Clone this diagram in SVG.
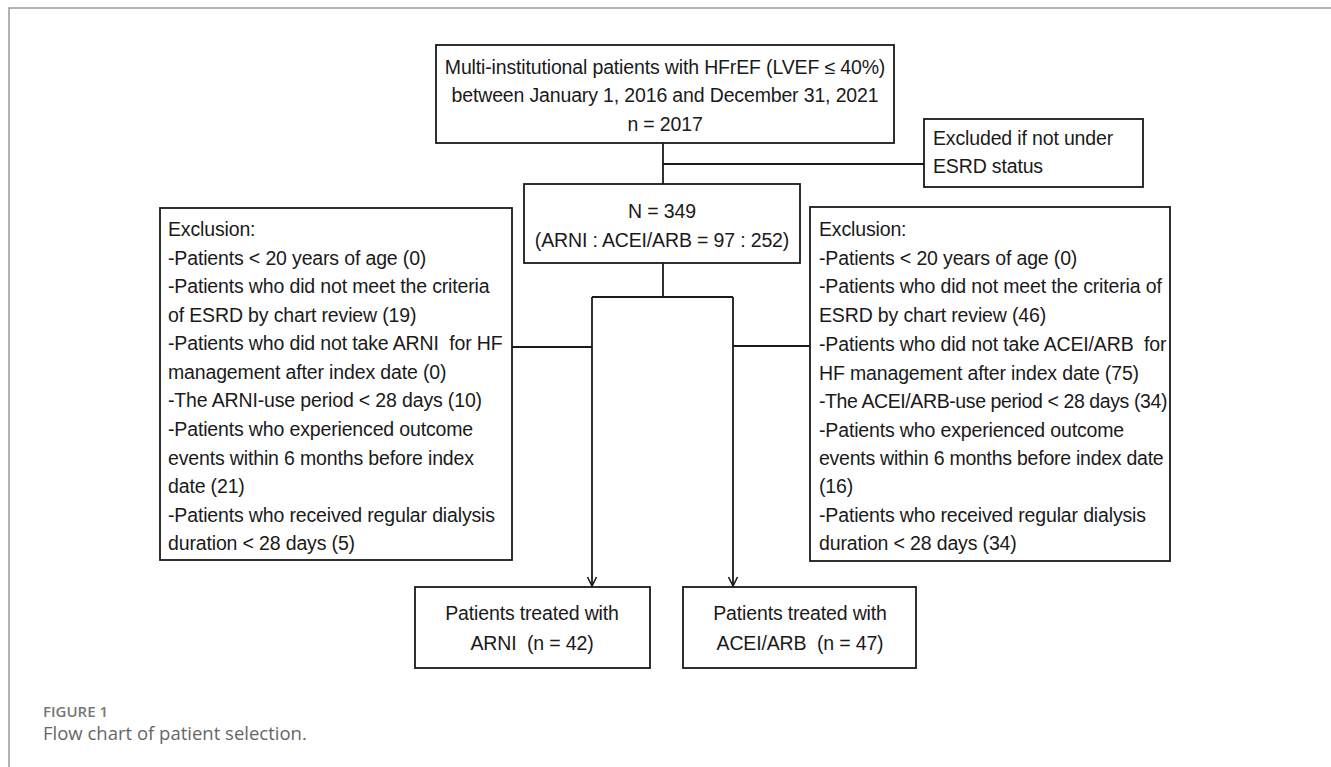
<svg xmlns="http://www.w3.org/2000/svg" width="1331" height="767" viewBox="0 0 1331 767">
<defs>
<style>
.box{fill:#fff;stroke:#1a1a1a;stroke-width:1.8}
.t{font-family:"Liberation Sans",Arial,sans-serif;font-size:19.5px;fill:#1a1a1a;letter-spacing:-0.15px}
.c{text-anchor:middle}
.ln{fill:none;stroke:#1a1a1a;stroke-width:1.8}
.frame{fill:none;stroke:#999;stroke-width:1.5}
</style>
<marker id="arr" markerUnits="userSpaceOnUse" markerWidth="12" markerHeight="12" refX="10" refY="5" orient="auto" viewBox="0 0 12 10">
<path d="M1,0.5 L10,5 L1,9.5" fill="none" stroke="#1a1a1a" stroke-width="1.6"/>
</marker>
</defs>
<rect width="1331" height="767" fill="#fff"/>
<path class="frame" d="M9,767 L9,8 L1331,8"/>
<g id="connectors">
<line class="ln" x1="663" y1="143" x2="663" y2="184"/>
<line class="ln" x1="663" y1="164" x2="924" y2="164"/>
<line class="ln" x1="663" y1="263" x2="663" y2="297"/>
<line class="ln" x1="592" y1="297" x2="733" y2="297"/>
<line class="ln" x1="592" y1="297" x2="592" y2="586" marker-end="url(#arr)"/>
<line class="ln" x1="733" y1="297" x2="733" y2="586" marker-end="url(#arr)"/>
<line class="ln" x1="512" y1="347" x2="592" y2="347"/>
<line class="ln" x1="733" y1="346" x2="810" y2="346"/>
</g>
<g id="top">
<rect class="box" x="436" y="45" width="458" height="98"/>
<text class="t c" x="665" y="74">Multi-institutional patients with HFrEF (LVEF ≤ 40%)</text>
<text class="t c" x="665" y="102">between January 1, 2016 and December 31, 2021</text>
<text class="t c" x="665" y="131">n = 2017</text>
</g>
<g id="excluded-esrd">
<rect class="box" x="924" y="119" width="219" height="68"/>
<text class="t" x="933" y="145">Excluded if not under</text>
<text class="t" x="933" y="173">ESRD status</text>
</g>
<g id="n349">
<rect class="box" x="524" y="184" width="276" height="79"/>
<text class="t c" x="662" y="218">N = 349</text>
<text class="t c" x="662" y="247">(ARNI : ACEI/ARB = 97 : 252)</text>
</g>
<g id="excl-left">
<rect class="box" x="160" y="208" width="352" height="352"/>
<text class="t" x="168" y="236">Exclusion:</text>
<text class="t" x="168" y="265">-Patients &lt; 20 years of age (0)</text>
<text class="t" x="168" y="293">-Patients who did not meet the criteria</text>
<text class="t" x="168" y="322">of ESRD by chart review (19)</text>
<text class="t" x="168" y="350">-Patients who did not take ARNI&#160; for HF</text>
<text class="t" x="168" y="379">management after index date (0)</text>
<text class="t" x="168" y="407">-The ARNI-use period &lt; 28 days (10)</text>
<text class="t" x="168" y="436">-Patients who experienced outcome</text>
<text class="t" x="168" y="465">events within 6 months before index</text>
<text class="t" x="168" y="493">date (21)</text>
<text class="t" x="168" y="522">-Patients who received regular dialysis</text>
<text class="t" x="168" y="550">duration &lt; 28 days (5)</text>
</g>
<g id="excl-right">
<rect class="box" x="810" y="207" width="360" height="354"/>
<text class="t" x="819" y="236">Exclusion:</text>
<text class="t" x="819" y="265">-Patients &lt; 20 years of age (0)</text>
<text class="t" x="819" y="293">-Patients who did not meet the criteria of</text>
<text class="t" x="819" y="322">ESRD by chart review (46)</text>
<text class="t" x="819" y="351">-Patients who did not take ACEI/ARB&#160; for</text>
<text class="t" x="819" y="380">HF management after index date (75)</text>
<text class="t" x="819" y="408" style="letter-spacing:-0.4px">-The ACEI/ARB-use period &lt; 28 days (34)</text>
<text class="t" x="819" y="437">-Patients who experienced outcome</text>
<text class="t" x="819" y="465" style="letter-spacing:-0.25px">events within 6 months before index date</text>
<text class="t" x="819" y="493">(16)</text>
<text class="t" x="819" y="522">-Patients who received regular dialysis</text>
<text class="t" x="819" y="550">duration &lt; 28 days (34)</text>
</g>
<g id="arni">
<rect class="box" x="415" y="587" width="235" height="81"/>
<text class="t c" x="532" y="620">Patients treated with</text>
<text class="t c" x="532" y="650">ARNI&#160; (n = 42)</text>
</g>
<g id="acei">
<rect class="box" x="683" y="587" width="233" height="81"/>
<text class="t c" x="800" y="620">Patients treated with</text>
<text class="t c" x="800" y="650">ACEI/ARB&#160; (n = 47)</text>
</g>
<g id="caption">
<text x="43" y="717" font-family="'Open Sans',sans-serif" font-size="15" font-weight="600" fill="#777">FIGURE 1</text>
<text x="43" y="740" font-family="'Open Sans',sans-serif" font-size="18.5" fill="#666">Flow chart of patient selection.</text>
</g>
</svg>
